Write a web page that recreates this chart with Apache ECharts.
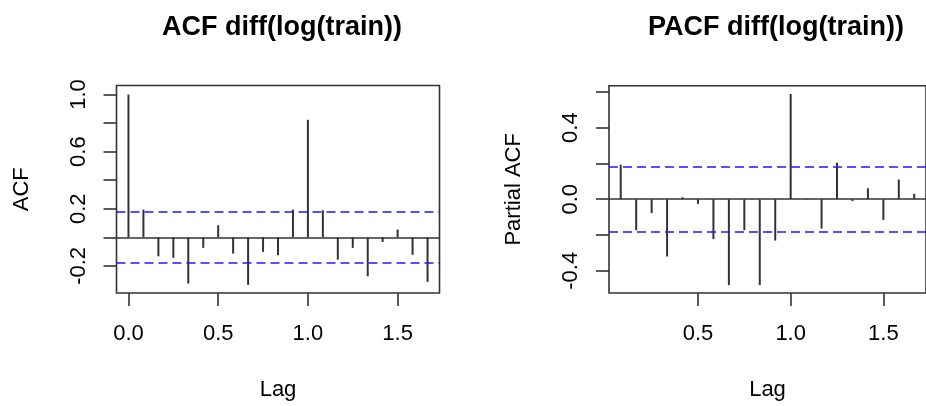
<!DOCTYPE html>
<html>
<head>
<meta charset="utf-8">
<script src="https://cdn.jsdelivr.net/npm/echarts@6/dist/echarts.min.js"></script>
<style>
  html, body { margin: 0; padding: 0; background: #fff; }
  #acfChart { width: 926px; height: 406px; }
</style>
</head>
<body>
<div id="acfChart"></div>
<script>
// lags in years (monthly data, lag k = k/12)
const acfLags = [0, 0.0833, 0.1667, 0.25, 0.3333, 0.4167, 0.5, 0.5833, 0.6667, 0.75, 0.8333,
  0.9167, 1.0, 1.0833, 1.1667, 1.25, 1.3333, 1.4167, 1.5, 1.5833, 1.6667];
const acfValues = [1.0, 0.194, -0.133, -0.144, -0.324, -0.074, 0.084, -0.114, -0.333, -0.102, -0.126,
  0.194, 0.823, 0.189, -0.156, -0.074, -0.273, -0.032, 0.054, -0.123, -0.312];

const pacfLags = [0.0833, 0.1667, 0.25, 0.3333, 0.4167, 0.5, 0.5833, 0.6667, 0.75, 0.8333,
  0.9167, 1.0, 1.0833, 1.1667, 1.25, 1.3333, 1.4167, 1.5, 1.5833, 1.6667];
const pacfValues = [0.193, -0.173, -0.078, -0.32, 0.011, -0.026, -0.223, -0.48, -0.173, -0.48,
  -0.231, 0.588, -0.003, -0.164, 0.204, -0.011, 0.061, -0.116, 0.11, 0.03];

const confLimit = 0.179;

const xTicks = [0, 0.5, 1.0, 1.5];
const acfYTicks = [-0.2, 0, 0.2, 0.4, 0.6, 0.8, 1.0];
const acfYLabels = [-0.2, 0.2, 0.6, 1.0];
const pacfYTicks = [-0.4, -0.2, 0, 0.2, 0.4, 0.6];
const pacfYLabels = [-0.4, 0, 0.4];

const FONT = "'Liberation Sans', Arial, sans-serif";
const INK = '#333';

let myChart = echarts.init(document.getElementById('acfChart'));

// 刻度和文字, R 风格
const xAxisOf = (gridIndex, min, max) => ({
  type: 'value',
  gridIndex: gridIndex,
  min: min,
  max: max,
  name: 'Lag',
  nameLocation: 'middle',
  nameGap: 86,
  nameTextStyle: { fontFamily: FONT, fontSize: 22, color: '#000' },
  axisLine: { show: false, onZero: false },
  splitLine: { show: false },
  axisTick: { show: true, length: 13, lineStyle: { color: INK, width: 1.6 }, customValues: xTicks },
  axisLabel: {
    fontFamily: FONT, fontSize: 22, color: '#000', margin: 30,
    customValues: xTicks,
    formatter: v => v.toFixed(1)
  }
});

const yAxisOf = (gridIndex, min, max, name, ticks, labels) => ({
  type: 'value',
  gridIndex: gridIndex,
  min: min,
  max: max,
  name: name,
  nameLocation: 'middle',
  nameRotate: 90,
  nameGap: 84,
  nameTextStyle: { fontFamily: FONT, fontSize: 22, color: '#000' },
  axisLine: { show: false, onZero: false },
  splitLine: { show: false },
  axisTick: { show: true, length: 13, lineStyle: { color: INK, width: 1.6 }, customValues: ticks },
  axisLabel: {
    fontFamily: FONT, fontSize: 22, color: '#000', margin: 27, rotate: 90,
    customValues: labels,
    formatter: v => v.toFixed(1)
  }
});

const refLines = {
  silent: true,
  symbol: 'none',
  label: { show: false },
  data: [
    { yAxis: 0, lineStyle: { color: INK, width: 1.6, type: 'solid' } },
    { yAxis: confLimit, lineStyle: { color: '#1a1aff', width: 1.6, type: [9, 5] } },
    { yAxis: -confLimit, lineStyle: { color: '#1a1aff', width: 1.6, type: [9, 5] } }
  ]
};

const option = {
  backgroundColor: '#fff',
  animation: false,
  title: [
    {
      text: 'ACF diff(log(train))', left: 277, top: 9, textAlign: 'center',
      textStyle: { fontFamily: FONT, fontSize: 27, fontWeight: 'bold', color: '#000' }
    },
    {
      text: 'PACF diff(log(train))', left: 771, top: 9, textAlign: 'center',
      textStyle: { fontFamily: FONT, fontSize: 27, fontWeight: 'bold', color: '#000' }
    }
  ],
  grid: [
    { left: 116.5, top: 85.5, width: 323, height: 208, show: true, borderColor: INK, borderWidth: 1.6, backgroundColor: 'transparent' },
    { left: 609, top: 85.7, width: 323.4, height: 207.5, show: true, borderColor: INK, borderWidth: 1.6, backgroundColor: 'transparent' }
  ],
  xAxis: [
    xAxisOf(0, -0.0667, 1.7333),
    xAxisOf(1, 0.02, 1.73)
  ],
  yAxis: [
    yAxisOf(0, -0.39, 1.063, 'ACF', acfYTicks, acfYLabels),
    yAxisOf(1, -0.524, 0.634, 'Partial ACF', pacfYTicks, pacfYLabels)
  ],
  series: [
    {
      name: 'ACF',
      type: 'bar',
      xAxisIndex: 0,
      yAxisIndex: 0,
      barWidth: 2,
      itemStyle: { color: INK },
      data: acfLags.map((lag, i) => [lag, acfValues[i]]),
      markLine: refLines
    },
    {
      name: 'PACF',
      type: 'bar',
      xAxisIndex: 1,
      yAxisIndex: 1,
      barWidth: 2,
      itemStyle: { color: INK },
      data: pacfLags.map((lag, i) => [lag, pacfValues[i]]),
      markLine: refLines
    }
  ]
};

myChart.setOption(option);
</script>
</body>
</html>
